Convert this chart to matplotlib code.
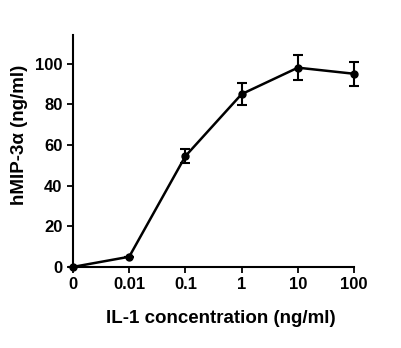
import matplotlib.pyplot as plt
import numpy as np

conc_labels = ['0', '0.01', '0.1', '1', '10', '100']
mip = [0, 5, 54.5, 85, 98, 95]
err = [0, 0, 3.5, 5.5, 6.2, 6]

plt.rcParams['font.family'] = 'Liberation Sans'
plt.rcParams['font.weight'] = 'bold'

fig = plt.figure(figsize=(4.01, 3.48), dpi=100)
ax = fig.add_axes([0.182, 0.233, 0.701, 0.666])

x = np.arange(len(conc_labels))
ax.errorbar(x, mip, yerr=err, color='black', linewidth=1.8, marker='o', markersize=5,
            ecolor='black', elinewidth=1.5, capsize=3.5, capthick=1.5, clip_on=False, zorder=3)

ax.set_xlim(0, 5)
ax.set_ylim(0, 114)
ax.set_xticks(x)
ax.set_xticklabels(conc_labels)
ax.set_yticks([0, 20, 40, 60, 80, 100])
ax.spines['top'].set_visible(False)
ax.spines['right'].set_visible(False)
ax.spines['left'].set_linewidth(1.5)
ax.spines['bottom'].set_linewidth(1.5)
ax.tick_params(axis='both', labelsize=12, width=1.3, length=4)
ax.set_xlabel('IL-1 concentration (ng/ml)', fontsize=13.5, fontweight='bold')
ax.set_ylabel('hMIP-3α (ng/ml)', fontsize=13.5, fontweight='bold')
ax.xaxis.set_label_coords(0.527, -0.185)
ax.yaxis.set_label_coords(-0.16, 0.57)

plt.savefig('out.png', dpi=100)
plt.close()
